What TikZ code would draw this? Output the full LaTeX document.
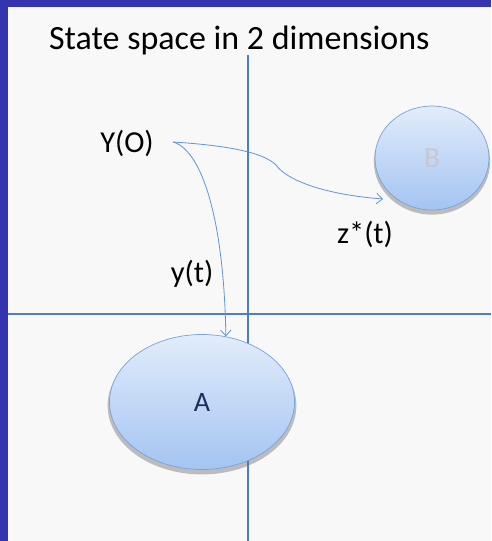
\documentclass[tikz,border=0pt]{standalone}
\usepackage{fontspec}
\setmainfont{Carlito}
\definecolor{ssband}{RGB}{52,52,176}
\definecolor{ssbg}{RGB}{248,248,248}
\definecolor{ssaxis}{RGB}{74,126,200}
\definecolor{sspath}{RGB}{100,150,215}
\definecolor{sstop}{RGB}{226,236,251}
\definecolor{ssbottom}{RGB}{164,196,242}
\definecolor{ssedge}{RGB}{120,162,220}
\definecolor{ssnavy}{RGB}{30,45,95}
\definecolor{ssghost}{RGB}{200,200,205}
\usetikzlibrary{arrows.meta,shapes.geometric,shadows}

\begin{document}
\begin{tikzpicture}[x=0.03cm,y=-0.03cm,
  region/.style={ellipse,draw=ssedge,line width=0.6pt,top color=sstop,bottom color=ssbottom,inner sep=0pt,
    drop shadow={shadow xshift=0pt,shadow yshift=-3pt,shadow scale=1.02,fill=black!55,opacity=0.45}},
  traj/.style={draw=sspath,line width=0.7pt,-{Straight Barb[length=5pt,width=9pt]}},
  lbl/.style={font=\fontsize{26}{30}\selectfont}]
  \useasboundingbox (0,0) rectangle (491,541);
  \fill[ssband] (0,0) rectangle (491,541);
  \fill[ssbg] (8,7) rectangle (491,541);
  \node[anchor=base west,font=\fontsize{29}{33}\selectfont] (title) at (45,50) {State space in 2 dimensions};
  % axes
  \draw[ssaxis,line width=1pt] (248,55) -- (248,541);
  \draw[ssaxis,line width=1pt] (8,314) -- (491,314);
  % regions
  \node[region,minimum width=5.55cm,minimum height=4.05cm,text=ssnavy,font=\fontsize{24}{28}\selectfont] (A) at (202,402) {A};
  \node[region,minimum width=3.42cm,minimum height=3.12cm,text=ssghost,font=\fontsize{25}{28}\selectfont] (B) at (432,158) {B};
  % trajectories
  \node[lbl] (y0) at (127,143) {Y(O)};
  \coordinate (start) at (173,142);
  \coordinate (zend) at (383,199);
  \draw[traj] (start) .. controls (202,150) and (224,220) .. (A.70);
  \draw[traj] (start) .. controls (220,145) and (262,151) .. (276,165) .. controls (288,182) and (330,195) .. (zend);
  \node[lbl] (yt) at (192,274) {y(t)};
  \node[lbl] (zt) at (365,234) {z*(t)};
\end{tikzpicture}
\end{document}
